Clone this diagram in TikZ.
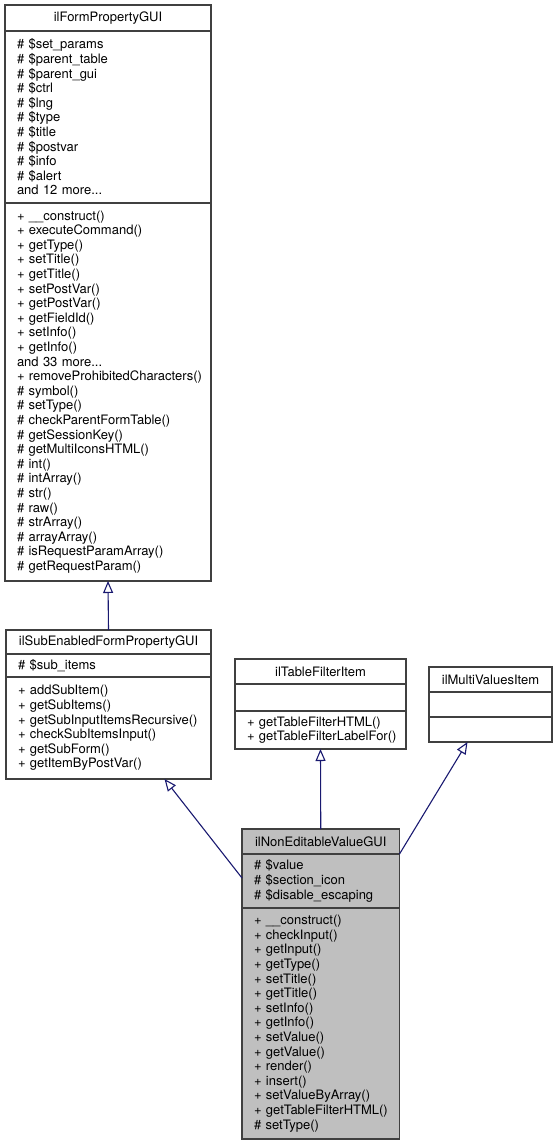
\documentclass[tikz,border=0pt]{standalone}
\usepackage{fontspec}
\setmainfont{TeX Gyre Heros}
\usetikzlibrary{arrows.meta}
\definecolor{boxline}{HTML}{404040}
\definecolor{edgeblue}{HTML}{191970}
\definecolor{curfill}{HTML}{BFBFBF}
\newcommand{\umlfont}{\fontsize{13}{14.6}\selectfont\hyphenpenalty=10000\exhyphenpenalty=10000}
\tikzset{
  part/.style={draw=boxline, line width=1.2pt, fill=white, anchor=north west,
    inner xsep=12pt, inner ysep=0pt, outer sep=0pt, font=\umlfont},
  ttl/.style={part, align=center},
  lst/.style={part, align=left},
  inh/.style={draw=edgeblue, line width=1.1pt,
    -{Triangle[open, length=12pt, width=10pt, line width=1.1pt]}}
}
\begin{document}
\begin{tikzpicture}[x=1pt, y=-1pt]
\useasboundingbox (0,0) rectangle (558,1145);

% ilFormPropertyGUI
\node[ttl, text width=182pt, minimum height=26pt] (fpgtitle) at (5,5) {ilFormPropertyGUI};
\node[lst, text width=182pt, minimum height=172pt] (fpgattr) at (fpgtitle.south west)
  {\# \$set\_params\\\# \$parent\_table\\\# \$parent\_gui\\\# \$ctrl\\\# \$lng\\\# \$type\\
   \# \$title\\\# \$postvar\\\# \$info\\\# \$alert\\and 12 more...};
\node[lst, text width=182pt, minimum height=378pt] (fpgops) at (fpgattr.south west)
  {+ \_\_construct()\\+ executeCommand()\\+ getType()\\+ setTitle()\\+ getTitle()\\
   + setPostVar()\\+ getPostVar()\\+ getFieldId()\\+ setInfo()\\+ getInfo()\\
   and 33 more...\\+~removeProhibitedCharacters()\\\# symbol()\\\# setType()\\
   \# checkParentFormTable()\\\# getSessionKey()\\\# getMultiIconsHTML()\\\# int()\\
   \# intArray()\\\# str()\\\# raw()\\\# strArray()\\\# arrayArray()\\
   \# isRequestParamArray()\\\# getRequestParam()};

% ilSubEnabledFormPropertyGUI
\node[ttl, text width=181pt, minimum height=24pt] (sefpgtitle) at (6,630) {ilSubEnabledFormPropertyGUI};
\node[lst, text width=181pt, minimum height=23pt] (sefpgattr) at (sefpgtitle.south west) {\# \$sub\_items};
\node[lst, text width=181pt, minimum height=102pt] (sefpgops) at (sefpgattr.south west)
  {+ addSubItem()\\+ getSubItems()\\+~getSubInputItemsRecursive()\\
   + checkSubItemsInput()\\+ getSubForm()\\+ getItemByPostVar()};

% ilTableFilterItem
\node[ttl, text width=147pt, minimum height=25pt] (tfititle) at (235,659) {ilTableFilterItem};
\node[lst, text width=147pt, minimum height=27pt] (tfiattr) at (tfititle.south west) {};
\node[lst, text width=147pt, minimum height=38pt] (tfiops) at (tfiattr.south west)
  {+~getTableFilterHTML()\\+~getTableFilterLabelFor()};

% ilMultiValuesItem
\node[ttl, text width=99pt, minimum height=25pt] (mvititle) at (429,667) {ilMultiValuesItem};
\node[lst, text width=99pt, minimum height=25pt] (mviattr) at (mvititle.south west) {};
\node[lst, text width=99pt, minimum height=25pt] (mviops) at (mviattr.south west) {};

% ilNonEditableValueGUI
\node[ttl, fill=curfill, text width=133.5pt, minimum height=25pt] (netitle) at (242,829) {ilNonEditableValueGUI};
\node[lst, fill=curfill, text width=133.5pt, minimum height=54pt] (neattr) at (netitle.south west)
  {\# \$value\\\# \$section\_icon\\\# \$disable\_escaping};
\node[lst, fill=curfill, text width=133.5pt, minimum height=231pt] (neops) at (neattr.south west)
  {+ \_\_construct()\\+ checkInput()\\+ getInput()\\+ getType()\\+ setTitle()\\
   + getTitle()\\+ setInfo()\\+ getInfo()\\+ setValue()\\+ getValue()\\+ render()\\
   + insert()\\+ setValueByArray()\\+~getTableFilterHTML()\\\# setType()};

% inheritance
\draw[inh] (sefpgtitle.north) -- (fpgops.south);
\draw[inh] ([yshift=3pt]neattr.west) -- ([xshift=56pt]sefpgops.south);
\draw[inh] (netitle.north) -- (tfiops.south);
\draw[inh] (netitle.south east) -- ([xshift=-23pt]mviops.south);

\end{tikzpicture}
\end{document}
